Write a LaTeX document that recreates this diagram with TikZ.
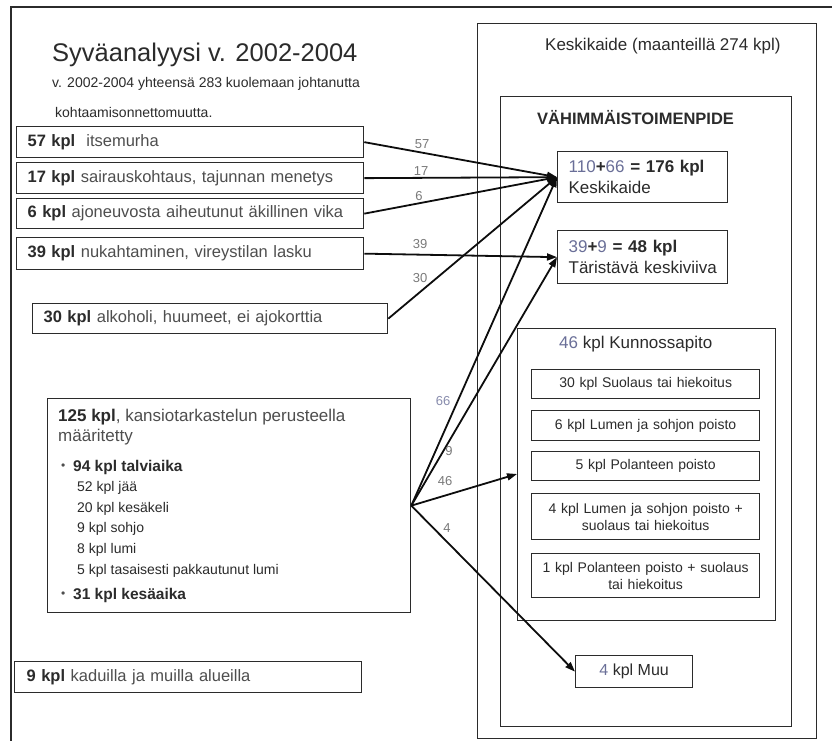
\documentclass[tikz,border=0pt]{standalone}
\usepackage{fontspec}
\setmainfont{Liberation Sans}
\usetikzlibrary{arrows.meta}
\definecolor{ink}{HTML}{2B2B2B}
\definecolor{soft}{HTML}{4E4E4E}
\definecolor{lbl}{HTML}{7A7A7A}
\definecolor{slate}{HTML}{6A6F98}
\newcommand{\fsz}[2]{\fontsize{#1}{#2}\selectfont}
\begin{document}
\begin{tikzpicture}[x=1pt,y=-1pt,
  box/.style={draw=ink, line width=1.3pt, inner sep=0pt, anchor=north west},
  lbox/.style={box, minimum width=347pt, text width=325pt, align=left, inner xsep=11pt, font=\fsz{16.5}{20}, text=soft},
  sbox/.style={box, minimum width=228pt, text width=216pt, align=center, inner xsep=6pt, font=\fsz{14}{17}, text=ink},
  rbox/.style={box, minimum width=170pt, text width=148pt, inner xsep=11pt, align=left, font=\fsz{17}{21}, text=ink},
  txt/.style={inner sep=0pt, anchor=west},
  conn/.style={line width=1.8pt, draw=black!95, -{Triangle[length=10pt,width=7pt]}},
  num/.style={inner sep=0pt, text=lbl, font=\fsz{13}{15}}
]
\useasboundingbox (0,0) rectangle (832,741);
\fill[white] (0,0) rectangle (832,741);
% outer frame
\draw[ink, line width=1.3pt] (11,741) -- (11,7) -- (832,7);

% title
\node[txt, text=ink, font=\fsz{25.5}{30}] (title) at (52,55) {Syväanalyysi v. 2002-2004};
\node[txt, text=ink, font=\fsz{14}{16}] (sub1) at (52,84) {v. 2002-2004 yhteensä 283 kuolemaan johtanutta};
\node[txt, text=ink, font=\fsz{14}{16}] (sub2) at (55,112) {kohtaamisonnettomuutta.};

% left boxes
\node[lbox, minimum height=31pt] (b57) at (16,126) {\textcolor{ink}{\textbf{57 kpl}}\ \ itsemurha};
\node[lbox, minimum height=31pt] (b17) at (16,162) {\textcolor{ink}{\textbf{17 kpl}} sairauskohtaus, tajunnan menetys};
\node[lbox, minimum height=30pt] (b6) at (16,198) {\textcolor{ink}{\textbf{6 kpl}} ajoneuvosta aiheutunut äkillinen vika};
\node[lbox, minimum height=32pt] (b39) at (16,237) {\textcolor{ink}{\textbf{39 kpl}} nukahtaminen, vireystilan lasku};
\node[lbox, minimum width=355pt, text width=333pt, minimum height=30pt] (b30) at (32,303) {\textcolor{ink}{\textbf{30 kpl}} alkoholi, huumeet, ei ajokorttia};
\node[lbox, inner xsep=12pt, text width=323pt, minimum height=31pt] (b9) at (14,661) {\textcolor{ink}{\textbf{9 kpl}} kaduilla ja muilla alueilla};

% 125 box
\node[box, minimum width=363pt, minimum height=214pt] (b125) at (47,398) {};
\node[txt, text=soft, font=\fsz{17}{20}] (t1) at (58,417) {\textcolor{ink}{\textbf{125 kpl}}, kansiotarkastelun perusteella};
\node[txt, text=soft, font=\fsz{17}{20}] (t2) at (58,437) {määritetty};
\node[txt, text=soft, font=\fsz{12}{14}] (bul1) at (61,467) {•};
\node[txt, text=ink, font=\bfseries\fsz{15.5}{18}] (t3) at (73,467) {94 kpl talviaika};
\node[txt, text=ink, font=\fsz{14}{16}] (t4) at (77,488) {52 kpl jää};
\node[txt, text=ink, font=\fsz{14}{16}] (t5) at (77,509) {20 kpl kesäkeli};
\node[txt, text=ink, font=\fsz{14}{16}] (t6) at (77,529) {9 kpl sohjo};
\node[txt, text=ink, font=\fsz{14}{16}] (t7) at (77,550) {8 kpl lumi};
\node[txt, text=ink, font=\fsz{14}{16}] (t8) at (77,571) {5 kpl tasaisesti pakkautunut lumi};
\node[txt, text=soft, font=\fsz{12}{14}] (bul2) at (61,595) {•};
\node[txt, text=ink, font=\bfseries\fsz{15.5}{18}] (t9) at (73,595) {31 kpl kesäaika};

% right container
\node[box, minimum width=339pt, minimum height=715pt] (outerR) at (477,23) {};
\node[txt, text=ink, font=\fsz{17}{20}] (rtitle) at (545,46) {Keskikaide (maanteillä 274 kpl)};
\node[box, minimum width=291pt, minimum height=630pt] (vah) at (500,96) {};
\node[txt, text=ink, font=\bfseries\fsz{16.5}{20}] (vtitle) at (537,118) {VÄHIMMÄISTOIMENPIDE};

\node[rbox, minimum height=51pt] (kk) at (557,151)
  {\mbox{\textcolor{slate}{110}\textbf{+}\textcolor{slate}{66} \textbf{= 176 kpl}}\\Keskikaide};
\node[rbox, minimum height=53pt] (ta) at (557,230)
  {\mbox{\textcolor{slate}{39}\textbf{+}\textcolor{slate}{9} \textbf{= 48 kpl}}\\\mbox{Täristävä keskiviiva}};

\node[box, minimum width=258pt, minimum height=292pt] (kun) at (517,328) {};
\node[txt, text=ink, font=\fsz{17}{20}] (ktitle) at (559,344) {\textcolor{slate}{46} kpl Kunnossapito};
\node[sbox, minimum height=29pt] (k1) at (531,369) {30 kpl Suolaus tai hiekoitus};
\node[sbox, minimum height=30pt] (k2) at (531,410) {6 kpl Lumen ja sohjon poisto};
\node[sbox, minimum height=29pt] (k3) at (531,451) {5 kpl Polanteen poisto};
\node[sbox, minimum height=46pt] (k4) at (531,493) {4 kpl Lumen ja sohjon poisto +\\suolaus tai hiekoitus};
\node[sbox, minimum height=44pt] (k5) at (531,553) {1 kpl Polanteen poisto + suolaus\\tai hiekoitus};

\node[box, minimum width=117pt, minimum height=32pt, align=center, font=\fsz{16}{19}, text=ink] (muu) at (575,655) {\textcolor{slate}{4} kpl Muu};

\coordinate (kin) at (517,474);

% connectors
\draw[conn] (b57.east) -- (kk.west);
\draw[conn] (b17.east) -- (kk.west);
\draw[conn] (b6.east) -- (kk.west);
\draw[conn] (b39.east) -- (ta.west);
\draw[conn] (b30.east) -- (kk.west);
\draw[conn] (b125.east) -- (kk.west);
\draw[conn] (b125.east) -- (ta.west);
\draw[conn] (b125.east) -- (kin);
\draw[conn] (b125.east) -- (muu.west);

% labels
\node[num] (n57) at (422,144) {57};
\node[num] (n17) at (421,171) {17};
\node[num] (n6) at (419,196) {6};
\node[num] (n39) at (420,244) {39};
\node[num] (n30) at (420,278) {30};
\node[num, text=slate!80] (n66) at (443,401) {66};
\node[num] (n9) at (449,451) {9};
\node[num] (n46) at (445,481) {46};
\node[num] (n4) at (447,528) {4};
\end{tikzpicture}
\end{document}
